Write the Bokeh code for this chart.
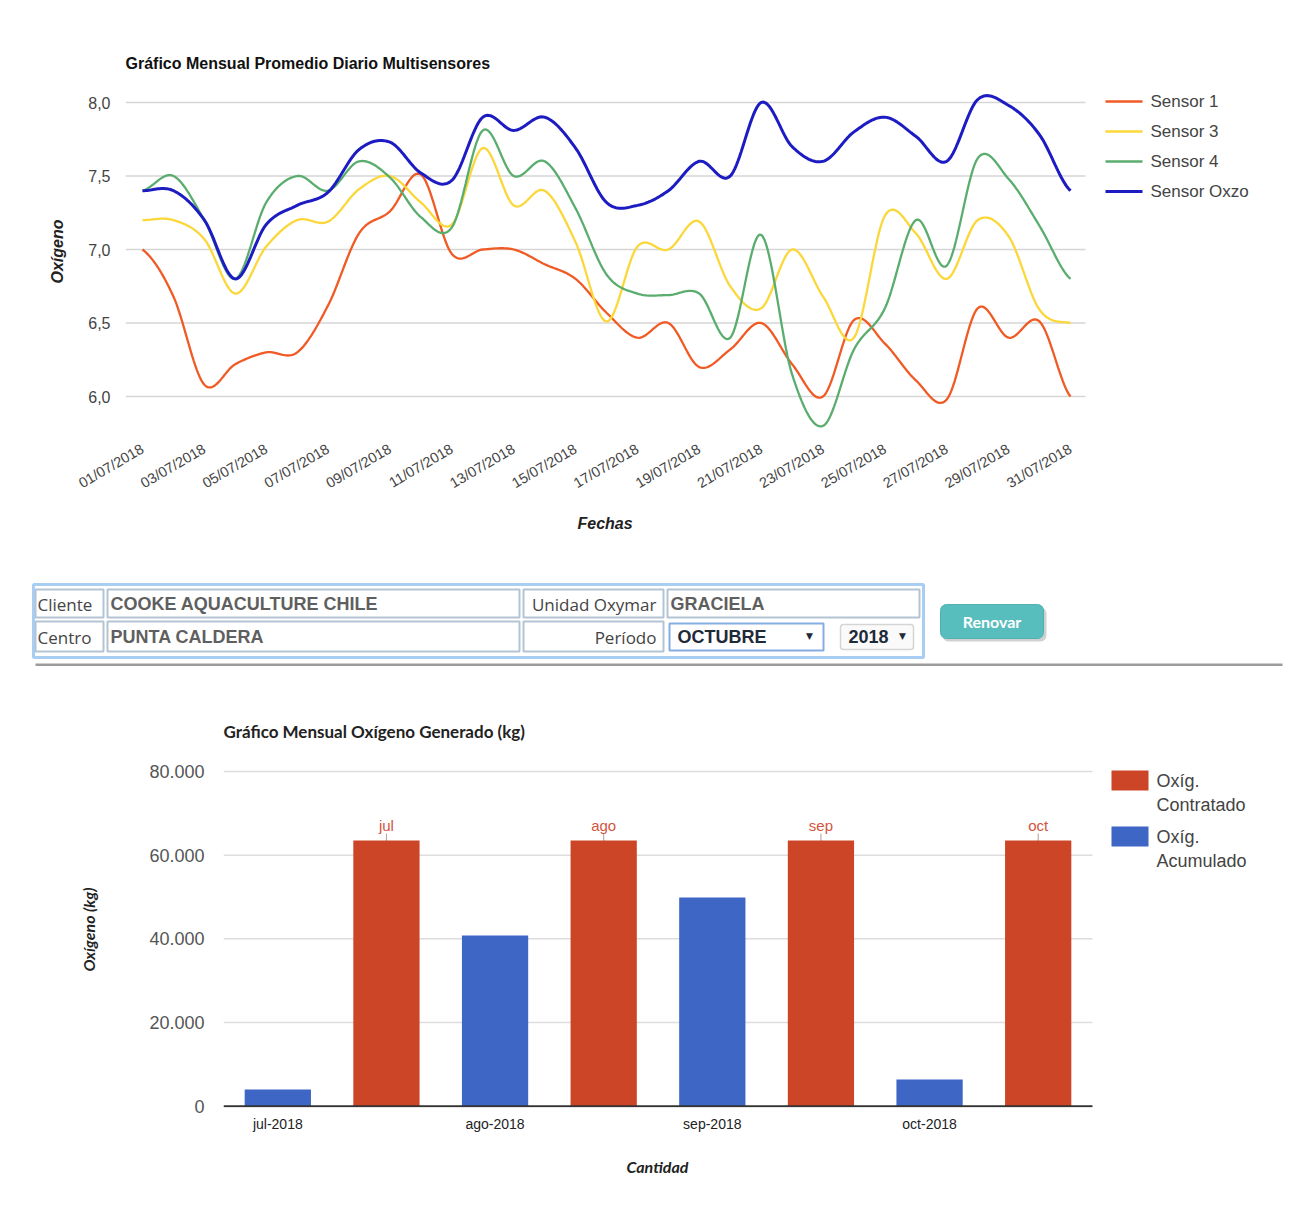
import numpy as np
from bokeh.plotting import figure
from bokeh.models import Range1d, FixedTicker, Title
from bokeh.embed import file_html
from bokeh.resources import INLINE
from bokeh.core.properties import value

# ---------------- data: daily averages (July 2018) ----------------
days = list(range(1, 32))
tick_days = [1, 3, 5, 7, 9, 11, 13, 15, 17, 19, 21, 23, 25, 27, 29, 31]
tick_dates = ["01/07/2018", "03/07/2018", "05/07/2018", "07/07/2018", "09/07/2018",
              "11/07/2018", "13/07/2018", "15/07/2018", "17/07/2018", "19/07/2018",
              "21/07/2018", "23/07/2018", "25/07/2018", "27/07/2018", "29/07/2018",
              "31/07/2018"]
sensor1 = [7.00, 6.68, 6.08, 6.22, 6.30, 6.30, 6.62, 7.11, 7.26, 7.51, 6.97, 7.00, 7.00, 6.90,
           6.80, 6.57, 6.40, 6.50, 6.20, 6.32, 6.50, 6.22, 6.00, 6.52, 6.36, 6.11, 5.98, 6.60,
           6.40, 6.51, 6.00]
sensor3 = [7.20, 7.20, 7.07, 6.70, 7.02, 7.20, 7.19, 7.41, 7.50, 7.32, 7.17, 7.69, 7.30, 7.40,
           7.05, 6.51, 7.02, 7.00, 7.19, 6.75, 6.60, 7.00, 6.68, 6.40, 7.23, 7.11, 6.80, 7.20,
           7.09, 6.59, 6.50]
sensor4 = [7.40, 7.50, 7.20, 6.80, 7.32, 7.50, 7.40, 7.60, 7.49, 7.22, 7.15, 7.81, 7.50, 7.60,
           7.28, 6.83, 6.70, 6.69, 6.70, 6.40, 7.10, 6.15, 5.80, 6.32, 6.60, 7.20, 6.89, 7.62,
           7.48, 7.16, 6.80]
sensor_oxzo = [7.40, 7.40, 7.20, 6.80, 7.17, 7.30, 7.39, 7.68, 7.73, 7.52, 7.47, 7.90, 7.81,
               7.90, 7.69, 7.32, 7.30, 7.40, 7.60, 7.50, 8.00, 7.70, 7.60, 7.80, 7.90, 7.77,
               7.60, 8.02, 7.98, 7.78, 7.40]
series_names = ["Sensor 1", "Sensor 3", "Sensor 4", "Sensor Oxzo"]
y_ticks = [6.0, 6.5, 7.0, 7.5, 8.0]
y_tick_labels = ["6,0", "6,5", "7,0", "7,5", "8,0"]

# ---------------- data: monthly oxygen ----------------
months = ["jul-2018", "ago-2018", "sep-2018", "oct-2018"]
month_short = ["jul", "ago", "sep", "oct"]
acumulado = [4000, 40800, 49900, 6400]
contratado = [63500, 63500, 63500, 63500]
bar_ticks = [0, 20000, 40000, 60000, 80000]
bar_tick_labels = ["0", "20.000", "40.000", "60.000", "80.000"]
bar_series = [["Oxíg.", "Contratado"], ["Oxíg.", "Acumulado"]]

# ---------------- form texts ----------------
form_labels = ["Cliente", "Centro"]
form_values = ["COOKE AQUACULTURE CHILE", "PUNTA CALDERA"]
form_labels2 = ["Unidad Oxymar", "Período"]
unidad = "GRACIELA"
mes = "OCTUBRE"
anio = "2018"
boton = "Renovar"

W = 1290


def smooth(xs, ys, n=20):
    xs = np.asarray(xs, float)
    ys = np.asarray(ys, float)
    ox, oy = [], []
    m = len(ys)
    for i in range(m - 1):
        p0 = ys[i - 1] if i > 0 else ys[i]
        p1, p2 = ys[i], ys[i + 1]
        p3 = ys[i + 2] if i + 2 < m else ys[i + 1]
        t = np.linspace(0, 1, n, endpoint=False)
        yy = 0.5 * (2 * p1 + (-p0 + p2) * t + (2 * p0 - 5 * p1 + 4 * p2 - p3) * t ** 2
                    + (-p0 + 3 * p1 - 3 * p2 + p3) * t ** 3)
        xx = xs[i] + (xs[i + 1] - xs[i]) * t
        ox.extend(xx)
        oy.extend(yy)
    ox.append(xs[-1])
    oy.append(ys[-1])
    return ox, oy


# ======================= line chart =======================
# frame spans page x 125..1290, y 72..430 ; plot area (gridlines) ends at x 1085
L_X0, L_PXD = 0.4504, 30.933          # day at frame-left, px per day
L_Y8, L_PXU = 102.0, 147.0            # page y of 8,0 and px per unit


def lx(px):
    return L_X0 + (px - 125) / L_PXD


def ly(py):
    return 8.0 - (py - L_Y8) / L_PXU


p1 = figure(width=W, height=570, output_backend="svg", toolbar_location=None,
            x_range=Range1d(lx(125), lx(1290)), y_range=Range1d(ly(430), ly(72)),
            min_border_left=125, min_border_right=0, min_border_top=72,
            min_border_bottom=140, outline_line_color=None)
p1.title.text = "Gráfico Mensual Promedio Diario Multisensores"
p1.title.align = "left"
p1.title.text_font = "Liberation Sans"
p1.title.text_font_size = "16px"
p1.title.text_font_style = "bold"
p1.title.text_color = "#111111"
p1.title.standoff = 2

p1.grid.visible = False
p1.segment(x0=[lx(125)] * len(y_ticks), x1=[lx(1085)] * len(y_ticks), y0=y_ticks,
           y1=y_ticks, line_color="#d6d6d6", line_width=1.5)

for ax in (p1.xaxis, p1.yaxis):
    ax.axis_line_color = None
    ax.major_tick_line_color = None
    ax.minor_tick_line_color = None
    ax.major_label_text_font = "Liberation Sans"
    ax.major_label_text_color = "#444444"
    ax.axis_label_text_font = "Liberation Sans"
    ax.axis_label_text_font_style = "bold italic"
    ax.axis_label_text_font_size = "16px"
    ax.axis_label_text_color = "#222222"

p1.yaxis.ticker = FixedTicker(ticks=y_ticks)
p1.yaxis.major_label_overrides = dict(zip(y_ticks, y_tick_labels))
p1.yaxis.major_label_text_font_size = "16px"
p1.yaxis.major_label_standoff = 9
p1.yaxis.axis_label = "Oxígeno"
p1.yaxis.axis_label_standoff = 19

p1.xaxis.ticker = FixedTicker(ticks=tick_days)
p1.xaxis.major_label_overrides = dict(zip(tick_days, tick_dates))
p1.xaxis.major_label_text_font_size = "14.5px"
p1.xaxis.major_label_orientation = 0.53
p1.xaxis.major_label_standoff = 11

p1.add_layout(Title(text="Fechas", align="left", offset=605 - 125 - 28,
                    text_font="Liberation Sans", text_font_size="16px",
                    text_font_style="bold italic", text_color="#222222", standoff=24),
              "below")

line_colors = ["#f05a24", "#fbd73a", "#5aad6e", "#1c1cc2"]
line_widths = [2.3, 2.3, 2.3, 3.0]
for name, ys, c, lw in zip(series_names, [sensor1, sensor3, sensor4, sensor_oxzo],
                           line_colors, line_widths):
    sx, sy = smooth(days, ys)
    p1.line(sx, sy, line_color=c, line_width=lw)

# legend (drawn at the right of the plot area)
leg_py = [101 + 30 * i for i in range(len(series_names))]
p1.segment(x0=[lx(1105)] * 4, x1=[lx(1142)] * 4, y0=[ly(v) for v in leg_py],
           y1=[ly(v) for v in leg_py], line_color=line_colors, line_width=line_widths)
p1.text(x=[lx(1150)] * 4, y=[ly(v) for v in leg_py], text=series_names,
        text_font=value("Liberation Sans"), text_font_size="17px", text_color="#444444",
        text_baseline="middle")

# ======================= form (drawn) =======================
p2 = figure(width=W, height=100, output_backend="svg", toolbar_location=None,
            x_range=Range1d(0, 1290), y_range=Range1d(670, 570),
            x_axis_location=None, y_axis_location=None, min_border=0,
            outline_line_color=None)
p2.grid.grid_line_color = None

p2.quad(left=[33], right=[923], top=[584], bottom=[657], fill_color=None,
        line_color="#a8cff3", line_width=3)
cells_l = [35, 107, 523, 667, 35, 107, 523]
cells_r = [103, 519, 663, 919, 103, 519, 663]
cells_t = [589, 589, 589, 589, 621, 621, 621]
cells_b = [617, 617, 617, 617, 651, 651, 651]
p2.quad(left=cells_l, right=cells_r, top=cells_t, bottom=cells_b, fill_color="white",
        line_color="#b3c3d3", line_width=2)
p2.quad(left=[669], right=[823], top=[623], bottom=[650], fill_color="white",
        line_color="#86ade3", line_width=2)
p2.quad(left=[840], right=[913], top=[624], bottom=[649], fill_color="#fafafa",
        line_color="#d5d5d5", line_width=1.5, border_radius=3)
p2.quad(left=[942], right=[1046], top=[607], bottom=[641], fill_color="#9a9a9a",
        fill_alpha=0.45, line_color=None, border_radius=6)
p2.quad(left=[940], right=[1043], top=[604], bottom=[638], fill_color="#58bdbd",
        line_color="#4fb1b1", line_width=1, border_radius=6)
p2.quad(left=[35], right=[1282], top=[663], bottom=[665.5], fill_color="#9c9c9c",
        line_color=None)

p2.text(x=[37, 37], y=[604, 637], text=form_labels, text_font=value("Open Sans"),
        text_font_size="17px", text_color="#444444", text_baseline="middle")
p2.text(x=[110, 110], y=[603, 636], text=form_values, text_font=value("Liberation Sans"),
        text_font_size="18px", text_font_style="bold", text_color="#5f5f5f",
        text_baseline="middle")
p2.text(x=[656, 656], y=[604, 637], text=form_labels2, text_font=value("Open Sans"),
        text_font_size="17px", text_color="#444444", text_baseline="middle",
        text_align="right")
p2.text(x=[670], y=[603], text=[unidad], text_font=value("Liberation Sans"),
        text_font_size="18px", text_font_style="bold", text_color="#5f5f5f",
        text_baseline="middle")
p2.text(x=[677, 848], y=[636, 636], text=[mes, anio], text_font=value("Liberation Sans"),
        text_font_size="18px", text_font_style="bold", text_color="#1e2a38",
        text_baseline="middle")
p2.text(x=[809, 902], y=[635, 635], text=["▼", "▼"], text_font=value("DejaVu Sans"),
        text_font_size="9px", text_color="#1e2a38", text_baseline="middle",
        text_align="center")
p2.text(x=[991.5], y=[621], text=[boton], text_font=value("Lato"),
        text_font_size="16px", text_font_style="bold", text_color="#ffffff",
        text_baseline="middle", text_align="center")

# ======================= bar chart =======================
# frame spans page x 223..1290, y 751..1107 ; plot area ends at x 1092
B_PXU = 869.0 / 8.0
B_PER_PX = 85076.0 / 356.0


def bx(px):
    return (px - 223) / B_PXU


def by(py):
    return -300 + (1107 - py) * B_PER_PX


p3 = figure(width=W, height=536, output_backend="svg", toolbar_location=None,
            x_range=Range1d(bx(223), bx(1290)), y_range=Range1d(-300, 84776),
            min_border_left=223, min_border_right=0, min_border_top=81,
            min_border_bottom=99, outline_line_color=None)
p3.title.text = "Gráfico Mensual Oxígeno Generado (kg)"
p3.title.align = "left"
p3.title.text_font = "Lato"
p3.title.text_font_size = "17px"
p3.title.text_font_style = "bold"
p3.title.text_color = "#222222"
p3.title.standoff = 20

p3.grid.visible = False
p3.segment(x0=[0] * 4, x1=[8] * 4, y0=bar_ticks[1:], y1=bar_ticks[1:],
           line_color="#dddddd", line_width=1.5)

for ax in (p3.xaxis, p3.yaxis):
    ax.axis_line_color = None
    ax.major_tick_line_color = None
    ax.minor_tick_line_color = None
    ax.major_label_text_font = "Liberation Sans"
    ax.axis_label_text_font = "Lato"
    ax.axis_label_text_font_style = "bold italic"
    ax.axis_label_text_font_size = "16px"
    ax.axis_label_text_color = "#222222"

p3.yaxis.ticker = FixedTicker(ticks=bar_ticks)
p3.yaxis.major_label_overrides = dict(zip(bar_ticks, bar_tick_labels))
p3.yaxis.major_label_text_font_size = "18px"
p3.yaxis.major_label_text_color = "#555555"
p3.yaxis.major_label_standoff = 13
p3.yaxis.axis_label = "Oxígeno (kg)"
p3.yaxis.axis_label_standoff = 48

blue_x = [2 * k + 0.5 for k in range(len(months))]
red_x = [2 * k + 1.5 for k in range(len(months))]

p3.xaxis.ticker = FixedTicker(ticks=blue_x)
p3.xaxis.major_label_overrides = dict(zip(blue_x, months))
p3.xaxis.major_label_text_font_size = "14px"
p3.xaxis.major_label_text_color = "#222222"
p3.xaxis.major_label_standoff = 2

p3.add_layout(Title(text="Cantidad", align="left", offset=658 - 223 - 32,
                    text_font="Lato", text_font_size="16px", text_font_style="bold italic",
                    text_color="#222222", standoff=40), "below")

red = "#cc4527"
blue = "#3d66c5"
p3.scatter(x=red_x, y=contratado, marker="dash", size=14, angle=np.pi / 2,
           line_color="#b79c94", line_width=1)
p3.vbar(x=red_x, top=contratado, bottom=0, width=0.61, fill_color=red, line_color=None)
p3.vbar(x=blue_x, top=acumulado, bottom=0, width=0.61, fill_color=blue, line_color=None)
p3.text(x=red_x, y=contratado, text=month_short, y_offset=-7, text_baseline="bottom",
        text_align="center", text_font=value("Liberation Sans"), text_font_size="15px",
        text_color="#d3543d")
# baseline
p3.segment(x0=[0], x1=[8], y0=[0], y1=[0], line_color="#333333", line_width=2)

# legend (drawn at the right of the plot area)
box_top = [770, 826]
p3.quad(left=[bx(1111)] * 2, right=[bx(1148)] * 2, top=[by(t) for t in box_top],
        bottom=[by(t + 20) for t in box_top], fill_color=[red, blue], line_color=None)
leg_txt, leg_y = [], []
for lines, t in zip(bar_series, box_top):
    for j, s in enumerate(lines):
        leg_txt.append(s)
        leg_y.append(by(t + 10 + 24 * j))
p3.text(x=[bx(1156)] * len(leg_txt), y=leg_y, text=leg_txt,
        text_font=value("Liberation Sans"), text_font_size="18px", text_color="#444444",
        text_baseline="middle")

open("out.html", "w").write(file_html([p1, p2, p3], INLINE))
